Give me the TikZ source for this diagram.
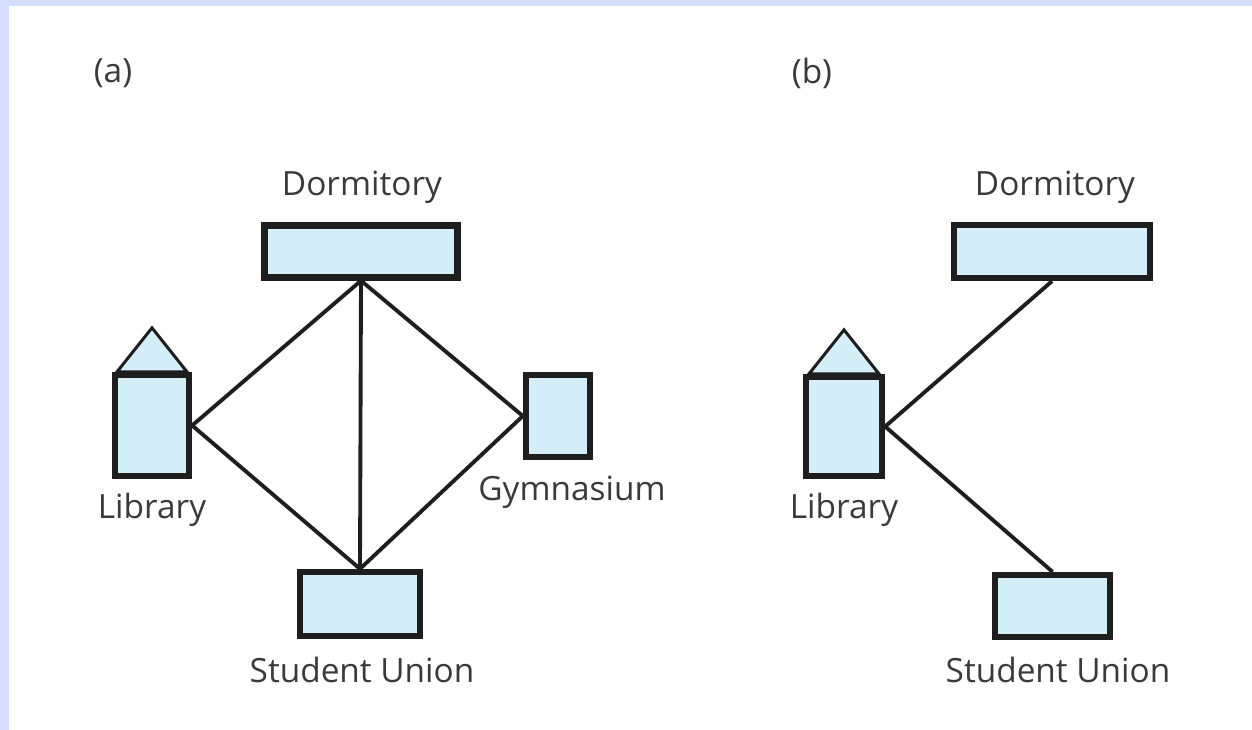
\documentclass[tikz,border=0pt]{standalone}
\usepackage{fontspec}
\setmainfont{Open Sans}
\usetikzlibrary{calc}
\definecolor{boxfill}{HTML}{D4EEFA}
\definecolor{edgeband}{HTML}{D4DEFE}
\definecolor{inkline}{HTML}{1E1E1E}
\definecolor{labelink}{HTML}{3A3A3A}
\begin{document}
\begin{tikzpicture}[x=0.02cm, y=-0.02cm,
  building/.style={draw=inkline, fill=boxfill, line width=3.6pt, rectangle, inner sep=0pt},
  roof/.style={draw=inkline, fill=boxfill, line width=1.7pt, line join=miter},
  link/.style={draw=inkline, line width=2.2pt},
  caption/.style={text=labelink, font=\fontsize{19}{22}\selectfont, inner sep=0pt}]
% canvas and its tinted top and left bands
\useasboundingbox (0,0) rectangle (1252,730);
\fill[white] (0,0) rectangle (1252,730);
\fill[edgeband] (0,0) rectangle (1252,6);
\fill[edgeband] (0,0) rectangle (9,730);

% ---------- panel (a) ----------
\node[caption] (capa) at (113,73) {(a)};
\node[building, minimum width=193*0.02cm, minimum height=52*0.02cm] (dormA) at (361,251.5) {};
\node[building, minimum width=74*0.02cm, minimum height=101*0.02cm] (libA) at (152,425.5) {};
\node[building, minimum width=64*0.02cm, minimum height=82*0.02cm] (gymA) at (558,416) {};
\node[building, minimum width=120*0.02cm, minimum height=64*0.02cm] (suA) at (360,604) {};
\draw[roof] ($(libA.north)+(-35,0)$) -- ($(libA.north)+(0,-44)$) -- ($(libA.north)+(35,0)$) -- cycle;
\node[building, minimum width=74*0.02cm, minimum height=101*0.02cm] at (libA.center) {};

\node[caption] (lblDormA) at (362,187) {Dormitory};
\node[caption] (lblLibA) at (152,510) {Library};
\node[caption] (lblGymA) at (572,492) {Gymnasium};
\node[caption] (lblSuA) at (362,670) {Student Union};

\draw[link] (dormA.south) -- (libA.east);
\draw[link] (dormA.south) -- (suA.north);
\draw[link] (dormA.south) -- (gymA.west);
\draw[link] (libA.east) -- (suA.north);
\draw[link] (gymA.west) -- (suA.north);

% ---------- panel (b) ----------
\node[caption] (capb) at (812,73) {(b)};
\node[building, minimum width=196*0.02cm, minimum height=53*0.02cm] (dormB) at (1052,251.5) {};
\node[building, minimum width=76*0.02cm, minimum height=99*0.02cm] (libB) at (844,426.5) {};
\node[building, minimum width=115*0.02cm, minimum height=62*0.02cm] (suB) at (1052.5,606) {};
\draw[roof] ($(libB.north)+(-35,0)$) -- ($(libB.north)+(0,-44)$) -- ($(libB.north)+(35,0)$) -- cycle;
\node[building, minimum width=76*0.02cm, minimum height=99*0.02cm] at (libB.center) {};

\node[caption] (lblDormB) at (1055,187) {Dormitory};
\node[caption] (lblLibB) at (844,510) {Library};
\node[caption] (lblSuB) at (1058,670) {Student Union};

\draw[link] (libB.east) -- (dormB.south);
\draw[link] (libB.east) -- (suB.north);
\end{tikzpicture}
\end{document}
